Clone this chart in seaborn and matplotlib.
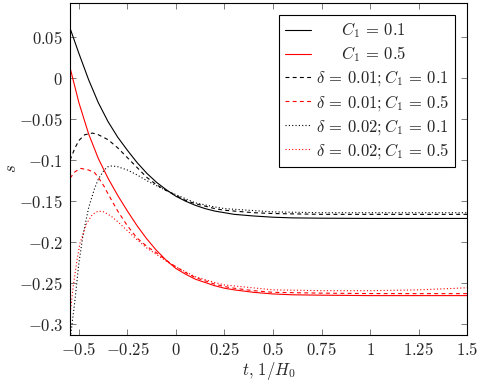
import matplotlib
matplotlib.use("Agg")
import matplotlib.pyplot as plt
import pandas as pd
import seaborn as sns

# values
t_c01 = [-0.546, -0.5, -0.45, -0.4, -0.35, -0.3, -0.25, -0.2, -0.15, -0.1, -0.05, 0.0,
         0.05, 0.1, 0.15, 0.2, 0.25, 0.3, 0.4, 0.5, 0.6, 0.75, 1.0, 1.25, 1.5]
s_c01 = [0.061, 0.030, -0.002, -0.030, -0.053, -0.072, -0.088, -0.103, -0.116, -0.127, -0.136, -0.144,
         -0.150, -0.155, -0.159, -0.162, -0.164, -0.166, -0.168, -0.1695, -0.1703, -0.1707, -0.171, -0.171, -0.171]

t_c05 = [-0.546, -0.5, -0.45, -0.4, -0.35, -0.3, -0.25, -0.2, -0.15, -0.1, -0.05, 0.0,
         0.05, 0.1, 0.15, 0.2, 0.25, 0.3, 0.4, 0.5, 0.6, 0.75, 1.0, 1.25, 1.5]
s_c05 = [0.013, -0.030, -0.068, -0.098, -0.122, -0.143, -0.162, -0.180, -0.196, -0.210, -0.222, -0.232,
         -0.239, -0.245, -0.249, -0.253, -0.256, -0.258, -0.261, -0.263, -0.264, -0.2645, -0.265, -0.265, -0.265]

t_d1_c01 = [-0.546, -0.52, -0.5, -0.47, -0.43, -0.4, -0.35, -0.3, -0.25, -0.2, -0.15, -0.1, -0.05, 0.0,
            0.05, 0.1, 0.15, 0.2, 0.25, 0.3, 0.4, 0.5, 0.75, 1.0, 1.25, 1.5]
s_d1_c01 = [-0.100, -0.085, -0.076, -0.069, -0.067, -0.069, -0.075, -0.085, -0.097, -0.109, -0.121, -0.130, -0.137, -0.143,
            -0.149, -0.153, -0.156, -0.159, -0.161, -0.162, -0.164, -0.165, -0.166, -0.166, -0.166, -0.166]

t_d1_c05 = [-0.546, -0.52, -0.49, -0.45, -0.42, -0.4, -0.37, -0.35, -0.3, -0.25, -0.2, -0.15, -0.1, -0.05, 0.0,
            0.05, 0.1, 0.2, 0.25, 0.3, 0.4, 0.5, 0.75, 1.0, 1.25, 1.5]
s_d1_c05 = [-0.122, -0.114, -0.110, -0.112, -0.115, -0.121, -0.132, -0.141, -0.162, -0.180, -0.195, -0.205, -0.213, -0.222, -0.230,
            -0.237, -0.243, -0.251, -0.254, -0.256, -0.259, -0.261, -0.262, -0.2625, -0.2626, -0.2626]

t_d2_c01 = [-0.546, -0.52, -0.5, -0.478, -0.45, -0.42, -0.4, -0.37, -0.35, -0.33, -0.3, -0.25, -0.2, -0.15, -0.1, -0.05, 0.0,
            0.1, 0.2, 0.25, 0.5, 0.75, 1.0, 1.25, 1.5]
s_d2_c01 = [-0.320, -0.270, -0.225, -0.190, -0.158, -0.135, -0.123, -0.112, -0.108, -0.107, -0.108, -0.112, -0.118, -0.125, -0.131, -0.137, -0.142,
            -0.152, -0.157, -0.159, -0.163, -0.164, -0.164, -0.164, -0.164]

t_d2_c05 = [-0.546, -0.53, -0.51, -0.495, -0.46, -0.43, -0.4, -0.37, -0.33, -0.3, -0.25, -0.2, -0.15, -0.1, -0.05, 0.0,
            0.1, 0.2, 0.25, 0.5, 0.75, 1.0, 1.25, 1.5]
s_d2_c05 = [-0.290, -0.255, -0.222, -0.2016, -0.177, -0.166, -0.162, -0.163, -0.169, -0.175, -0.186, -0.197, -0.207, -0.215, -0.223, -0.230,
            -0.242, -0.249, -0.252, -0.258, -0.259, -0.259, -0.258, -0.2555]

labels = [r"$\quad\;\;\, C_1 \,=\, 0.1$", r"$\quad\;\;\, C_1 \,=\, 0.5$",
          r"$\delta \,=\, 0.01; C_1 \,=\, 0.1$", r"$\delta \,=\, 0.01; C_1 \,=\, 0.5$",
          r"$\delta \,=\, 0.02; C_1 \,=\, 0.1$", r"$\delta \,=\, 0.02; C_1 \,=\, 0.5$"]

x_ticks = [-0.5, -0.25, 0, 0.25, 0.5, 0.75, 1, 1.25, 1.5]
x_ticklabels = ["$-0.5$", "$-0.25$", "$0$", "$0.25$", "$0.5$", "$0.75$", "$1$", "$1.25$", "$1.5$"]
y_ticks = [0.05, 0, -0.05, -0.1, -0.15, -0.2, -0.25, -0.3]
y_ticklabels = ["$0.05$", "$0$", "$-0.05$", "$-0.1$", "$-0.15$", "$-0.2$", "$-0.25$", "$-0.3$"]

sns.set_theme(style="ticks")
plt.rcParams["mathtext.fontset"] = "cm"
plt.rcParams["font.family"] = ["DejaVu Serif"]
plt.rcParams["xtick.direction"] = "in"
plt.rcParams["ytick.direction"] = "in"

fig = plt.figure(figsize=(4.82, 3.84), dpi=100)
ax = fig.add_axes([0.1452, 0.1276, 0.8238, 0.8646])

series = [
    (t_c01, s_c01, "black", "-"),
    (t_c05, s_c05, "red", "-"),
    (t_d1_c01, s_d1_c01, "black", (0, (3.5, 3))),
    (t_d1_c05, s_d1_c05, "red", (0, (3.5, 3))),
    (t_d2_c01, s_d2_c01, "black", (0, (1, 2))),
    (t_d2_c05, s_d2_c05, "red", (0, (1, 2))),
]
for (t, s, col, ls), lab in zip(series, labels):
    df = pd.DataFrame({"t": t, "s": s})
    sns.lineplot(data=df, x="t", y="s", ax=ax, color=col, linestyle=ls,
                 linewidth=0.8, label=lab, sort=False)

ax.set_xlim(-0.546, 1.5)
ax.set_ylim(-0.313, 0.0915)
ax.set_xticks(x_ticks)
ax.set_xticklabels(x_ticklabels, fontsize=12)
ax.set_yticks(y_ticks)
ax.set_yticklabels(y_ticklabels, fontsize=12)
ax.tick_params(which="both", top=True, right=True, length=4, width=0.6, color="0.4", pad=5)
for sp in ax.spines.values():
    sp.set_linewidth(0.8)
    sp.set_color("black")

ax.set_xlabel(r"$t,\,1/H_0$", fontsize=12, labelpad=1)
ax.set_ylabel(r"$s$", fontsize=12, rotation=90)
ax.yaxis.set_label_coords(-0.125, 0.5)

leg = ax.legend(loc="upper right", fontsize=12, frameon=True, fancybox=False,
                framealpha=1, edgecolor="black", handlelength=1.6, handletextpad=0.3,
                labelspacing=0.25, borderpad=0.35, borderaxespad=0.7)
leg.get_frame().set_linewidth(0.8)

fig.savefig("out.png", dpi=100)
